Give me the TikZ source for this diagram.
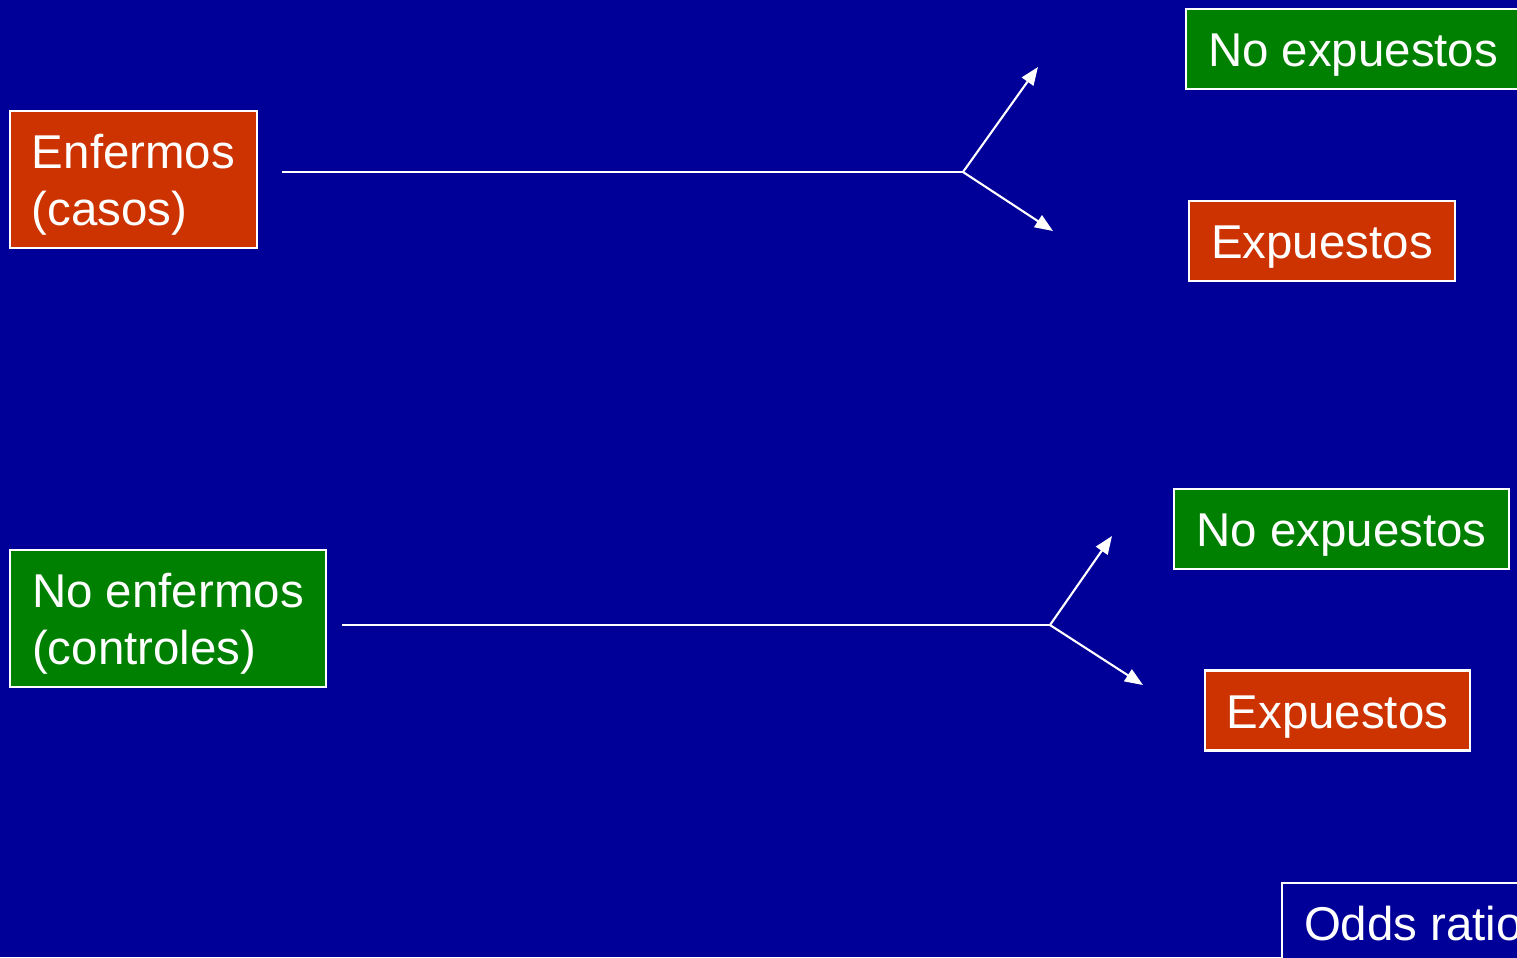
\documentclass[tikz,border=0pt]{standalone}
\usepackage{fontspec}
\setmainfont{Liberation Sans}
\usetikzlibrary{arrows.meta, positioning}
\definecolor{slideblue}{RGB}{0,0,153}
\definecolor{caseorange}{RGB}{204,51,0}
\definecolor{ctrlgreen}{RGB}{0,128,0}
\tikzset{
  box/.style={draw=white, line width=0.6pt, text=white, inner xsep=0.22cm, inner ysep=0pt,
    font=\fontsize{13.5}{16.3}\selectfont, align=left},
  groupbox/.style={box, minimum height=1.37cm, text height=29pt, text depth=2.9pt},
  outcome/.style={box, minimum height=0.8cm, text height=13pt, text depth=2.8pt},
  branch/.style={draw=white, line width=0.6pt},
  tip/.style={branch, -{Triangle[length=0.18cm, width=0.14cm]}}
}

\begin{document}
\begin{tikzpicture}
\useasboundingbox (0,-9.57) rectangle (15.17,0);
\clip (0,-9.57) rectangle (15.17,0);
\fill[slideblue] (0,-9.57) rectangle (15.17,0);

% groups
\node[groupbox, fill=caseorange] (casos) at (1.335,-1.795) {Enfermos\\(casos)};
\node[groupbox, fill=ctrlgreen] (controles) at (1.68,-6.185) {No enfermos\\(controles)};

% exposure, cases
\node[outcome, fill=ctrlgreen, anchor=west] (casosno) at (11.85,-0.49) {No expuestos};
\node[outcome, fill=caseorange] (casossi) at (13.22,-2.41) {Expuestos};

% exposure, controls
\node[outcome, fill=ctrlgreen] (controlesno) at (13.415,-5.29) {No expuestos};
\node[outcome, fill=caseorange] (controlessi) at (13.375,-7.105) {Expuestos};

\node[outcome, fill=slideblue, anchor=north west] (odds) at (12.81,-8.82) {Odds ratio};

% branches
\coordinate (casos-start) at (2.82,-1.72);
\coordinate (casos-fork) at (9.63,-1.72);
\coordinate (casos-up) at (10.38,-0.67);
\coordinate (casos-down) at (10.53,-2.31);
\draw[branch] (casos-start) -- (casos-fork);
\draw[tip] (casos-fork) -- (casos-up);
\draw[tip] (casos-fork) -- (casos-down);

\coordinate (controles-start) at (3.42,-6.25);
\coordinate (controles-fork) at (10.50,-6.25);
\coordinate (controles-up) at (11.12,-5.36);
\coordinate (controles-down) at (11.43,-6.85);
\draw[branch] (controles-start) -- (controles-fork);
\draw[tip] (controles-fork) -- (controles-up);
\draw[tip] (controles-fork) -- (controles-down);
\end{tikzpicture}
\end{document}
